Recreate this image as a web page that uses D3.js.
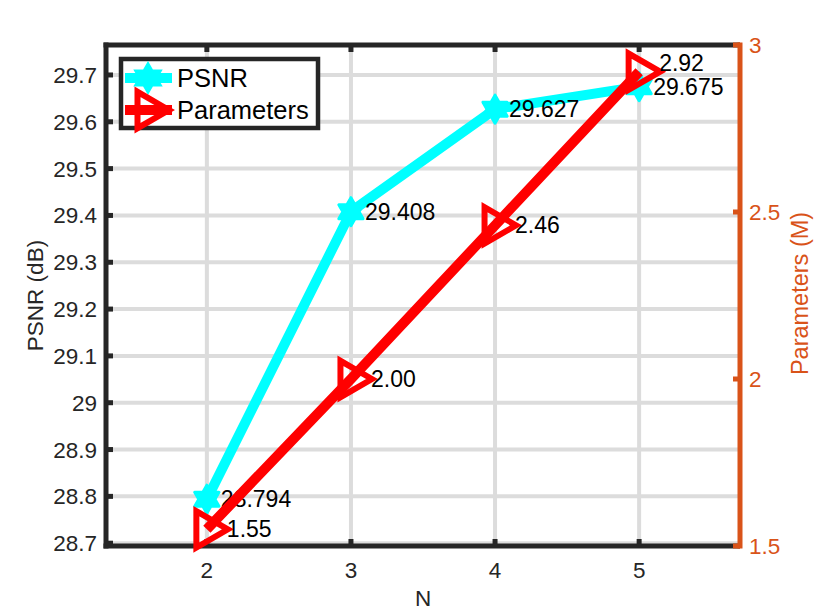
<!DOCTYPE html>
<html lang="en">
<head>
    <meta charset="UTF-8">
    <title>PSNR vs Parameters</title>
    <script src="https://d3js.org/d3.v7.min.js"></script>
    <style>
        body { margin: 0; background: #fff; }
        text { font-family: "Liberation Sans", Arial, Helvetica, sans-serif; }
    </style>
</head>
<body>
<svg id="chart" width="818" height="614"></svg>
<script>
    // data
    const nValues = [2, 3, 4, 5];
    const psnrValues = [28.794, 29.408, 29.627, 29.675];
    const paramValues = [1.55, 2.00, 2.46, 2.92];
    const psnrLabels = ['28.794', '29.408', '29.627', '29.675'];
    const paramLabels = ['1.55', '2.00', '2.46', '2.92'];
    const xTicks = [2, 3, 4, 5];
    const leftTicks = [28.7, 28.8, 28.9, 29, 29.1, 29.2, 29.3, 29.4, 29.5, 29.6, 29.7];
    const rightTicks = [1.5, 2, 2.5, 3];

    const m = {l: 106, r: 740, t: 45, b: 546};
    const black = '#262626', orange = '#D95319', cyan = '#00FFFF', red = '#FF0000';
    const fs = 22.5, fsData = 23, fsLeg = 25.5;

    const svg = d3.select('#chart');
    const x = d3.scaleLinear().domain([1.3, 5.7]).range([m.l, m.r]);
    const yL = d3.scaleLinear().domain([28.694, 29.764]).range([m.b, m.t]);
    const yR = d3.scaleLinear().domain([1.5, 3]).range([m.b, m.t]);

    // grid
    const grid = svg.append('g');
    grid.selectAll('line.gx').data(xTicks).join('line')
        .attr('x1', d => x(d)).attr('x2', d => x(d))
        .attr('y1', m.t).attr('y2', m.b)
        .attr('stroke', '#dcdcdc').attr('stroke-width', 4);
    grid.selectAll('line.gy').data(leftTicks).join('line')
        .attr('x1', m.l).attr('x2', m.r)
        .attr('y1', d => yL(d)).attr('y2', d => yL(d))
        .attr('stroke', '#dcdcdc').attr('stroke-width', 4);

    // axes box
    const ax = svg.append('g');
    ax.append('line').attr('x1', m.l - 2.5).attr('x2', m.r).attr('y1', m.t).attr('y2', m.t)
        .attr('stroke', black).attr('stroke-width', 5);
    ax.append('line').attr('x1', m.l - 2.5).attr('x2', m.r).attr('y1', m.b).attr('y2', m.b)
        .attr('stroke', black).attr('stroke-width', 5);
    ax.append('line').attr('x1', m.l).attr('x2', m.l).attr('y1', m.t - 2.5).attr('y2', m.b + 2.5)
        .attr('stroke', black).attr('stroke-width', 5);
    ax.append('line').attr('x1', m.r).attr('x2', m.r).attr('y1', m.t - 2.5).attr('y2', m.b + 2.5)
        .attr('stroke', orange).attr('stroke-width', 5);

    // ticks
    const tl = 7;
    ax.selectAll('line.tb').data(xTicks).join('line')
        .attr('x1', d => x(d)).attr('x2', d => x(d))
        .attr('y1', m.b).attr('y2', m.b - tl)
        .attr('stroke', black).attr('stroke-width', 5);
    ax.selectAll('line.tt').data(xTicks).join('line')
        .attr('x1', d => x(d)).attr('x2', d => x(d))
        .attr('y1', m.t).attr('y2', m.t + tl)
        .attr('stroke', black).attr('stroke-width', 5);
    ax.selectAll('line.tlft').data(leftTicks).join('line')
        .attr('x1', m.l).attr('x2', m.l + tl)
        .attr('y1', d => yL(d)).attr('y2', d => yL(d))
        .attr('stroke', black).attr('stroke-width', 5);
    ax.selectAll('line.trgt').data(rightTicks).join('line')
        .attr('x1', m.r).attr('x2', m.r - tl)
        .attr('y1', d => yR(d)).attr('y2', d => yR(d))
        .attr('stroke', orange).attr('stroke-width', 5);

    // tick labels
    ax.selectAll('text.xl').data(xTicks).join('text')
        .attr('x', d => x(d)).attr('y', 578)
        .attr('text-anchor', 'middle').attr('font-size', fs).attr('fill', black)
        .text(d => d);
    ax.selectAll('text.yl').data(leftTicks).join('text')
        .attr('x', 97).attr('y', d => yL(d) + 8)
        .attr('text-anchor', 'end').attr('font-size', fs).attr('fill', black)
        .text(d => d3.format('~g')(d));
    ax.selectAll('text.yr').data(rightTicks).join('text')
        .attr('x', 749).attr('y', d => yR(d) + 8)
        .attr('text-anchor', 'start').attr('font-size', fs).attr('fill', orange)
        .text(d => d3.format('~g')(d));

    // axis titles
    svg.append('text').attr('x', (m.l + m.r) / 2).attr('y', 606)
        .attr('text-anchor', 'middle').attr('font-size', fs).attr('fill', black).text('N');
    svg.append('text').attr('transform', `translate(43,${(m.t + m.b) / 2}) rotate(-90)`)
        .attr('text-anchor', 'middle').attr('font-size', fs).attr('fill', black).text('PSNR (dB)');
    svg.append('text').attr('transform', `translate(808,${(m.t + m.b) / 2 - 2}) rotate(-90)`)
        .attr('text-anchor', 'middle').attr('font-size', 23.5).attr('fill', orange).text('Parameters (M)');

    // markers
    function hexagram(r) {
        const pts = [];
        for (let i = 0; i < 12; i++) {
            const a = -Math.PI / 2 + i * Math.PI / 6;
            const rr = i % 2 === 0 ? r : r / Math.sqrt(3);
            pts.push([rr * Math.cos(a), rr * Math.sin(a)]);
        }
        return 'M' + pts.map(p => p.join(',')).join('L') + 'Z';
    }
    function triRight(r) {
        const pts = [[r, 0], [-r / 2, -r * 0.866], [-r / 2, r * 0.866]];
        return 'M' + pts.map(p => p.join(',')).join('L') + 'Z';
    }

    const line = d3.line();

    // PSNR series
    const ps = nValues.map((n, i) => [x(n), yL(psnrValues[i])]);
    svg.append('path').attr('d', line(ps)).attr('fill', 'none')
        .attr('stroke', cyan).attr('stroke-width', 10).attr('stroke-linejoin', 'round');
    svg.selectAll('path.star').data(ps).join('path')
        .attr('transform', d => `translate(${d[0]},${d[1]})`)
        .attr('d', hexagram(14)).attr('fill', cyan)
        .attr('stroke', cyan).attr('stroke-width', 3).attr('stroke-linejoin', 'round');
    svg.selectAll('text.pl').data(ps).join('text')
        .attr('x', d => d[0] + 14).attr('y', d => d[1] + 8)
        .attr('font-size', fsData).attr('fill', '#000')
        .text((d, i) => psnrLabels[i]);

    // Parameters series
    const pr = nValues.map((n, i) => [x(n), yR(paramValues[i])]);
    svg.append('path').attr('d', line(pr)).attr('fill', 'none')
        .attr('stroke', red).attr('stroke-width', 10).attr('stroke-linejoin', 'round');
    svg.selectAll('path.tri').data(pr).join('path')
        .attr('transform', d => `translate(${d[0]},${d[1]})`)
        .attr('d', triRight(21)).attr('fill', 'none')
        .attr('stroke', red).attr('stroke-width', 6);
    svg.selectAll('text.rl').data(pr).join('text')
        .attr('x', d => d[0] + 20).attr('y', (d, i) => d[1] + 8 - (i === pr.length - 1 ? 9 : 0))
        .attr('font-size', fsData).attr('fill', '#000')
        .text((d, i) => paramLabels[i]);

    // legend
    const lg = svg.append('g');
    lg.append('rect').attr('x', 121).attr('y', 59).attr('width', 197).attr('height', 69)
        .attr('fill', '#fff').attr('stroke', black).attr('stroke-width', 4.5);
    lg.append('line').attr('x1', 125).attr('x2', 172).attr('y1', 78).attr('y2', 78)
        .attr('stroke', cyan).attr('stroke-width', 10);
    lg.append('path').attr('transform', 'translate(148,78)').attr('d', hexagram(14))
        .attr('fill', cyan).attr('stroke', cyan).attr('stroke-width', 3);
    lg.append('text').attr('x', 177).attr('y', 87).attr('font-size', fsLeg).attr('fill', '#000').text('PSNR');
    lg.append('line').attr('x1', 125).attr('x2', 172).attr('y1', 110).attr('y2', 110)
        .attr('stroke', red).attr('stroke-width', 10);
    lg.append('path').attr('transform', 'translate(148,110)').attr('d', triRight(21))
        .attr('fill', 'none').attr('stroke', red).attr('stroke-width', 6);
    lg.append('text').attr('x', 177).attr('y', 119).attr('font-size', fsLeg).attr('fill', '#000').text('Parameters');
</script>
</body>
</html>
